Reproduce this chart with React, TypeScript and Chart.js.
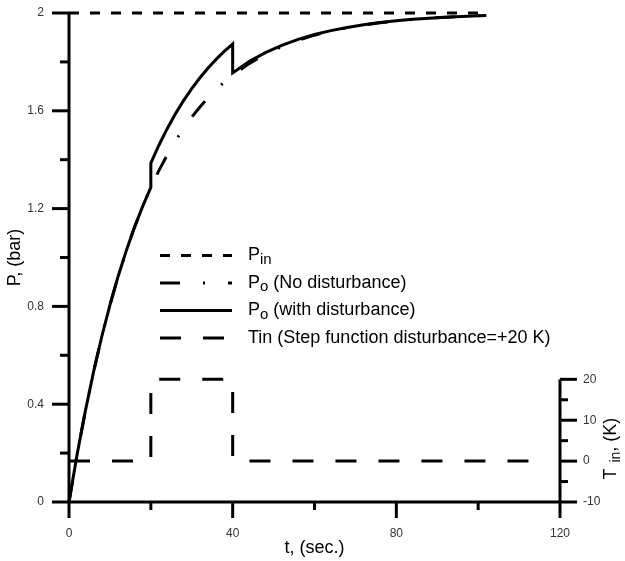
import React, { useEffect, useRef } from 'react';
import { Chart, registerables } from 'chart.js';

Chart.register(...registerables);

// ---------- data ----------
const pinTime = [0, 102];
const pinValues = [2, 2];

const noDistTime = [0, 2, 4, 6, 8, 10, 12, 14, 16, 18, 20, 22, 24, 26, 28, 30, 32, 34, 36, 38, 40,
  44, 48, 52, 56, 60, 64, 68, 72, 76, 80, 84, 88, 92, 96, 100, 102];
const noDistValues = [0, 0.1959, 0.3726, 0.5321, 0.6759, 0.8055, 0.9226, 1.0281, 1.1233, 1.2092, 1.2866,
  1.3565, 1.4196, 1.4764, 1.5277, 1.574, 1.6157, 1.6534, 1.6873, 1.718, 1.7456,
  1.793, 1.8316, 1.8629, 1.8885, 1.9093, 1.9262, 1.9399, 1.9511, 1.9602, 1.9676, 1.9737, 1.9786, 1.9826, 1.9858, 1.9885, 1.9896];

const withDistTime = [0, 2, 4, 6, 8, 10, 12, 14, 16, 18, 20, 20, 22, 24, 26, 28, 30, 32, 34, 36, 38, 40, 40,
  44, 48, 52, 56, 60, 64, 68, 72, 76, 80, 84, 88, 92, 96, 100, 102];
const withDistValues = [0, 0.1959, 0.3726, 0.5321, 0.6759, 0.8055, 0.9226, 1.0281, 1.1233, 1.2092, 1.2866,
  1.386, 1.4602, 1.527, 1.5874, 1.6418, 1.6909, 1.7352, 1.7751, 1.8112, 1.8437, 1.873, 1.755,
  1.802, 1.838, 1.868, 1.892, 1.912, 1.928, 1.941, 1.952, 1.961, 1.968, 1.974, 1.979, 1.983, 1.986, 1.989, 1.99];

const tinTime = [0, 20, 20, 40, 40, 117];
const tinValues = [0, 0, 20, 20, 0, 0];

const pMajorTicks = [0, 0.4, 0.8, 1.2, 1.6, 2];
const pMinorTicks = [0.2, 0.6, 1.0, 1.4, 1.8];
const tMajorTicks = [0, 40, 80, 120];
const tMinorTicks = [20, 60, 100];
const kMajorTicks = [-10, 0, 10, 20];
const kMinorTicks = [-5, 5, 15];

const legendItems = [
  { main: 'P', sub: 'in', rest: '' },
  { main: 'P', sub: 'o', rest: ' (No disturbance)' },
  { main: 'P', sub: 'o', rest: ' (with disturbance)' },
  { main: 'Tin (Step function disturbance=+20 K)', sub: '', rest: '' },
];

const FONT = '"Liberation Sans", Arial, sans-serif';

const toPoints = (xs: number[], ys: number[]) => xs.map((x, i) => ({ x, y: ys[i] }));

const noPad = (s: any) => { s.paddingTop = 0; s.paddingBottom = 0; s.paddingLeft = 0; s.paddingRight = 0; };

// ---------- plugins ----------
const axesPlugin = {
  id: 'customAxes',
  afterDatasetsDraw(chart: any) {
    const { ctx, chartArea, scales } = chart;
    const x = scales.x, y = scales.y, k = scales.yT;
    const L = chartArea.left, R = chartArea.right, B = chartArea.bottom, T = chartArea.top;
    ctx.save();
    ctx.strokeStyle = '#000';
    ctx.lineWidth = 3;
    ctx.lineCap = 'butt';
    ctx.setLineDash([]);
    const line = (x1: number, y1: number, x2: number, y2: number) => {
      ctx.beginPath(); ctx.moveTo(x1, y1); ctx.lineTo(x2, y2); ctx.stroke();
    };
    // axis lines
    line(L, T, L, B);
    line(L, B, R, B);
    line(R, k.getPixelForValue(20), R, B);
    // left ticks
    pMajorTicks.forEach(v => { const p = y.getPixelForValue(v); line(L - 17, p, L, p); });
    pMinorTicks.forEach(v => { const p = y.getPixelForValue(v); line(L - 9, p, L, p); });
    // bottom ticks
    tMajorTicks.forEach(v => { const p = x.getPixelForValue(v); line(p, B, p, B + 16); });
    tMinorTicks.forEach(v => { const p = x.getPixelForValue(v); line(p, B, p, B + 8); });
    // right ticks
    kMajorTicks.forEach(v => { const p = k.getPixelForValue(v); line(R, p, R + 17, p); });
    kMinorTicks.forEach(v => { const p = k.getPixelForValue(v); line(R, p, R + 8, p); });

    // right axis title with subscript (rotated)
    const yMid = (k.getPixelForValue(-10) + k.getPixelForValue(20)) / 2 + 8;
    ctx.fillStyle = '#000';
    ctx.textBaseline = 'middle';
    ctx.textAlign = 'left';
    const mainFont = `18px ${FONT}`;
    const subFont = `14px ${FONT}`;
    const gap = 6;
    ctx.font = mainFont; const wT = ctx.measureText('T').width; const wRest = ctx.measureText(', (K)').width;
    ctx.font = subFont; const wSub = ctx.measureText('in').width;
    const total = wT + gap + wSub + wRest;
    ctx.translate(611, yMid);
    ctx.rotate(-Math.PI / 2);
    let cx = -total / 2;
    ctx.font = mainFont; ctx.fillText('T', cx, 0); cx += wT + gap;
    ctx.font = subFont; ctx.fillText('in', cx, 5); cx += wSub;
    ctx.font = mainFont; ctx.fillText(', (K)', cx, 0);
    ctx.restore();
  },
};

const legendPlugin = {
  id: 'customLegend',
  afterDraw(chart: any) {
    const { ctx } = chart;
    const rows = [255.5, 283, 310.5, 338];
    ctx.save();
    legendItems.forEach((item, i) => {
      const ds = chart.data.datasets[i];
      const yy = rows[i];
      ctx.strokeStyle = '#000';
      ctx.lineWidth = 3;
      ctx.setLineDash(ds.borderDash || []);
      ctx.beginPath(); ctx.moveTo(160, yy); ctx.lineTo(232, yy); ctx.stroke();
      ctx.setLineDash([]);
      ctx.fillStyle = '#000';
      ctx.textBaseline = 'middle';
      ctx.textAlign = 'left';
      let cx = 248;
      ctx.font = `18px ${FONT}`;
      ctx.fillText(item.main, cx, yy); cx += ctx.measureText(item.main).width;
      if (item.sub) {
        ctx.font = `15px ${FONT}`;
        ctx.fillText(item.sub, cx, yy + 4); cx += ctx.measureText(item.sub).width;
      }
      if (item.rest) {
        ctx.font = `18px ${FONT}`;
        ctx.fillText(item.rest, cx, yy);
      }
    });
    ctx.restore();
  },
};

export default function App() {
  const ref = useRef<HTMLCanvasElement | null>(null);
  useEffect(() => {
    if (!ref.current) return;
    const common = { pointRadius: 0, borderWidth: 3, borderColor: '#000', tension: 0, fill: false, clip: false as any };
    const tickFont = { family: FONT, size: 12 };
    const chart = new Chart(ref.current, {
      type: 'line',
      data: {
        datasets: [
          { ...common, label: 'Pin', data: toPoints(pinTime, pinValues), borderDash: [10, 11], yAxisID: 'y' },
          { ...common, label: 'Po (No disturbance)', data: toPoints(noDistTime, noDistValues), borderDash: [20, 23, 2, 23], yAxisID: 'y' },
          { ...common, label: 'Po (with disturbance)', data: toPoints(withDistTime, withDistValues), borderDash: [], yAxisID: 'y' },
          { ...common, label: 'Tin', data: toPoints(tinTime, tinValues), borderDash: [21, 22], yAxisID: 'yT' },
        ],
      },
      options: {
        responsive: false,
        animation: false,
        events: [],
        layout: { padding: { top: 13, left: 0, right: 0, bottom: 0 } },
        plugins: { legend: { display: false }, tooltip: { enabled: false }, title: { display: false } },
        scales: {
          x: {
            type: 'linear', position: 'bottom', min: 0, max: 120,
            grid: { display: false, drawTicks: false }, border: { display: false },
            ticks: { stepSize: 40, padding: 24, color: '#333', font: tickFont, maxRotation: 0 },
            title: { display: true, text: 't, (sec.)', color: '#000', font: { family: FONT, size: 18 }, padding: { top: 0, bottom: 2 } },
            afterFit: (s: any) => { s.height = 59; noPad(s); },
          },
          y: {
            type: 'linear', position: 'left', min: 0, max: 2,
            grid: { display: false, drawTicks: false }, border: { display: false },
            ticks: { stepSize: 0.4, padding: 25, color: '#333', font: tickFont,
              callback: (v: any) => String(Math.round(Number(v) * 10) / 10) },
            title: { display: true, text: 'P, (bar)', color: '#000', font: { family: FONT, size: 18 }, padding: { top: 4, bottom: 0 } },
            afterFit: (s: any) => { s.width = 69; noPad(s); },
          },
          yT: {
            type: 'linear', position: 'right', min: -10, max: 109.6,
            grid: { display: false, drawTicks: false }, border: { display: false },
            ticks: { stepSize: 10, includeBounds: false, padding: 23, color: '#333', font: tickFont,
              callback: (v: any) => (Number(v) <= 20 ? String(Math.round(Number(v))) : '') },
            afterFit: (s: any) => { s.width = 65; noPad(s); },
          },
        },
      } as any,
      plugins: [axesPlugin, legendPlugin],
    });
    return () => chart.destroy();
  }, []);
  return (
    <div style={{ position: 'fixed', left: 0, top: 0, width: 625, height: 561, background: '#fff' }}>
      <canvas ref={ref} width={625} height={561} />
    </div>
  );
}
